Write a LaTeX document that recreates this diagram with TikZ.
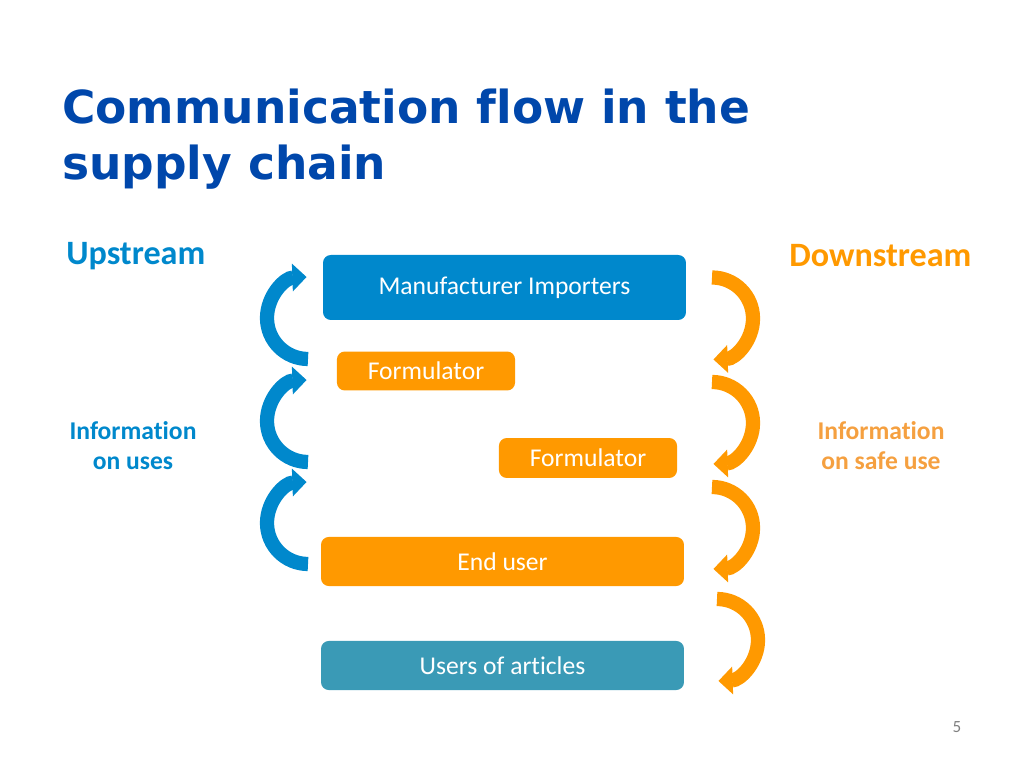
\documentclass[tikz,border=0pt]{standalone}
\usepackage{fontspec}
\setmainfont[Ligatures=NoCommon]{Carlito}
\newfontfamily\titlefont[Ligatures=NoCommon]{DejaVu Sans Bold}
\usepackage{xcolor}
\usetikzlibrary{arrows.meta,positioning}
\definecolor{titleblue}{RGB}{0,71,171}
\definecolor{chainblue}{RGB}{0,136,204}
\definecolor{chainorange}{RGB}{255,153,0}
\definecolor{chainteal}{RGB}{58,154,182}
\definecolor{safeorange}{RGB}{245,160,64}

\begin{document}
\begin{tikzpicture}[x=0.703125pt,y=0.703125pt,
		chainbox/.style={rounded corners=5.5pt, text=white, inner sep=0pt,
			font=\fontsize{18}{21.6}\selectfont},
		widebox/.style={chainbox, minimum width=255.2pt, minimum height=34.5pt},
		formbox/.style={chainbox, fill=chainorange, minimum width=125.2pt, minimum height=27.4pt},
		sidelabel/.style={anchor=base west, inner sep=0pt, font=\bfseries\fontsize{24}{29}\selectfont},
		infolabel/.style={align=center, inner sep=0pt, font=\bfseries\fontsize{18}{21.6}\selectfont},
		upflow/.style={line width=10pt, draw=chainblue, -{Triangle[length=10pt,width=19pt]}},
		downflow/.style={line width=10pt, draw=chainorange, -{Triangle[length=10pt,width=19pt]}}]
	\useasboundingbox (0,0) rectangle (1024,768);
	%
	\node [anchor=base west, inner sep=0pt, text=titleblue, font=\titlefont\fontsize{32}{39}\selectfont] (title1) at (62,644) {Communication flow in the};
	\node [anchor=base west, inner sep=0pt, text=titleblue, font=\titlefont\fontsize{32}{39}\selectfont] (title2) at (62,588) {supply chain};
	%
	\node [sidelabel, text=chainblue] (upstream) at (66,503) {Upstream};
	\node [sidelabel, text=chainorange] (downstream) at (789,501) {Downstream};
	\node [infolabel, text=chainblue] (infouses) at (133,322.5) {Information\\on uses};
	\node [infolabel, text=safeorange] (infosafe) at (881,322.5) {Information\\on safe use};
	%
	\node [widebox, fill=chainblue, minimum height=45.7pt] (maker) at (504.5,480.5) {Manufacturer Importers};
	\node [formbox] (form1) at (426,397) {Formulator};
	\node [formbox, minimum height=28.1pt] (form2) at (588,310) {Formulator};
	\node [widebox, fill=chainorange] (enduser) at (502.5,206.5) {End user};
	\node [widebox, fill=chainteal] (articles) at (502.5,102.5) {Users of articles};
	%
	\foreach \c in {450,347,245}
		\draw [upflow] (308,\c-41) arc [start angle=270, end angle=92, radius=41];
	\foreach \x/\c in {712/449.5, 712/345, 712/240, 717/128}
		\draw [downflow] (\x,\c+41) arc [start angle=90, end angle=-88, radius=41];
	%
	\node [text=gray, font=\fontsize{12}{14}\selectfont] (pagenum) at (957,41) {5};
\end{tikzpicture}
\end{document}
